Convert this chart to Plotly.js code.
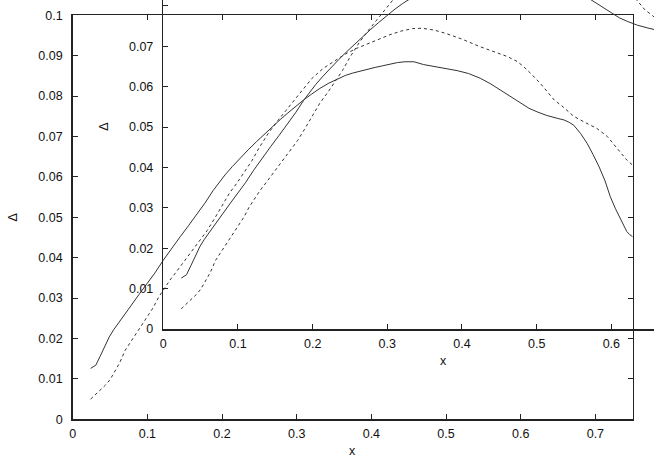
<!DOCTYPE html>
<html>
<head>
<meta charset="utf-8">
<script src="https://cdn.plot.ly/plotly-3.0.1.min.js"></script>
<style>
html,body{margin:0;padding:0;background:#fff;}
#chart{width:654px;height:458px;}
</style>
</head>
<body>
<div id="chart"></div>
<script>
// Series: solid curve
const solidX = [0.024,0.031,0.037,0.043,0.049,0.055,0.062,0.068,0.079,0.090,0.100,0.110,0.121,0.132,0.144,0.155,0.166,0.177,0.188,0.196,0.204,0.214,0.224,0.235,0.246,0.256,0.267,0.278,0.288,0.299,0.309,0.320,0.331,0.343,0.354,0.365,0.375,0.385,0.395,0.405,0.415,0.425,0.435,0.445,0.457,0.470,0.485,0.500,0.515,0.530,0.546,0.560,0.573,0.586,0.600,0.611,0.622,0.635,0.649,0.658,0.665,0.671,0.680,0.689,0.697,0.705,0.713,0.720,0.727,0.734,0.742,0.746,0.750];
const solidY = [0.0126,0.0134,0.0157,0.0182,0.0204,0.0222,0.0240,0.0258,0.0285,0.0312,0.0337,0.0362,0.0393,0.0422,0.0452,0.0479,0.0506,0.0535,0.0566,0.0586,0.0605,0.0626,0.0646,0.0667,0.0687,0.0705,0.0724,0.0742,0.0758,0.0775,0.0790,0.0805,0.0819,0.0832,0.0842,0.0851,0.0857,0.0862,0.0867,0.0871,0.0875,0.0879,0.0883,0.0885,0.0885,0.0878,0.0873,0.0868,0.0863,0.0856,0.0844,0.0830,0.0815,0.0798,0.0782,0.0770,0.0761,0.0752,0.0745,0.0741,0.0735,0.0728,0.0708,0.0683,0.0655,0.0625,0.0590,0.0551,0.0521,0.0493,0.0465,0.0457,0.0452];
// Series: dashed curve
const dashedX = [0.024,0.031,0.037,0.044,0.050,0.056,0.063,0.070,0.077,0.085,0.093,0.100,0.108,0.115,0.122,0.130,0.140,0.150,0.160,0.170,0.180,0.190,0.200,0.210,0.220,0.230,0.240,0.250,0.262,0.275,0.290,0.305,0.320,0.335,0.350,0.365,0.380,0.395,0.410,0.425,0.440,0.455,0.468,0.485,0.500,0.520,0.546,0.565,0.582,0.595,0.604,0.615,0.626,0.636,0.645,0.655,0.671,0.686,0.702,0.716,0.725,0.734,0.742,0.750];
const dashedY = [0.0050,0.0062,0.0072,0.0085,0.0098,0.0116,0.0140,0.0170,0.0190,0.0213,0.0236,0.0254,0.0277,0.0302,0.0323,0.0344,0.0368,0.0392,0.0418,0.0442,0.0467,0.0497,0.0530,0.0560,0.0585,0.0612,0.0640,0.0673,0.0708,0.0740,0.0774,0.0810,0.0843,0.0868,0.0887,0.0904,0.0918,0.0930,0.0940,0.0952,0.0961,0.0967,0.0968,0.0963,0.0955,0.0942,0.0922,0.0910,0.0898,0.0886,0.0873,0.0853,0.0832,0.0810,0.0790,0.0776,0.0750,0.0735,0.0720,0.0700,0.0680,0.0658,0.0642,0.0629];
// Tick labels
const mainXTicks = [0,0.1,0.2,0.3,0.4,0.5,0.6,0.7];
const mainXLabels = ['0','0.1','0.2','0.3','0.4','0.5','0.6','0.7'];
const mainYTicks = [0,0.01,0.02,0.03,0.04,0.05,0.06,0.07,0.08,0.09,0.1];
const mainYLabels = ['0','0.01','0.02','0.03','0.04','0.05','0.06','0.07','0.08','0.09','0.1'];
const insetXTicks = [0,0.1,0.2,0.3,0.4,0.5,0.6];
const insetXLabels = ['0','0.1','0.2','0.3','0.4','0.5','0.6'];
const insetYTicks = [0,0.01,0.02,0.03,0.04,0.05,0.06,0.07,0.08];
const insetYLabels = ['0','0.01','0.02','0.03','0.04','0.05','0.06','0.07','0.08'];
const xTitle = 'x';
const yTitle = 'Δ';

const W = 654, H = 458;
const FONT = {family: 'Liberation Sans, Arial, Helvetica, sans-serif', size: 12.5, color: '#111'};
const LINE = '#333';

const traces = [
  {x: solidX, y: solidY, xaxis: 'x', yaxis: 'y', mode: 'lines', line: {color: LINE, width: 1}},
  {x: dashedX, y: dashedY, xaxis: 'x', yaxis: 'y', mode: 'lines', line: {color: LINE, width: 1, dash: '3px,3px'}},
  {x: solidX, y: solidY, xaxis: 'x2', yaxis: 'y2', mode: 'lines', line: {color: LINE, width: 1}},
  {x: dashedX, y: dashedY, xaxis: 'x2', yaxis: 'y2', mode: 'lines', line: {color: LINE, width: 1, dash: '3px,3px'}}
];

function px2fx(p){ return p / W; }
function py2fy(p){ return 1 - p / H; }

const axBase = {
  showgrid: false, zeroline: false, showline: true, linecolor: '#222', linewidth: 1.5,
  ticks: 'inside', ticklen: 5, tickwidth: 1, tickcolor: '#222',
  tickfont: FONT, tickmode: 'array', fixedrange: true
};

const layout = {
  width: W, height: H,
  margin: {l: 0, r: 0, t: 0, b: 0, pad: 0},
  paper_bgcolor: '#fff', plot_bgcolor: 'rgba(0,0,0,0)',
  showlegend: false,
  xaxis: Object.assign({}, axBase, {
    domain: [px2fx(72.7), px2fx(632.7)], range: [0, 0.75], anchor: 'y',
    tickvals: mainXTicks, ticktext: mainXLabels, mirror: 'ticks', ticklabelstandoff: 2
  }),
  yaxis: Object.assign({}, axBase, {
    domain: [py2fy(419.3), py2fy(15.3)], range: [0, 0.1], anchor: 'x',
    tickvals: mainYTicks, ticktext: mainYLabels, mirror: 'ticks', ticklabelstandoff: 6
  }),
  xaxis2: Object.assign({}, axBase, {
    domain: [px2fx(163.3), 1], range: [0, (W - 163.3) / 746.7], anchor: 'y2',
    tickvals: insetXTicks, ticktext: insetXLabels, mirror: false, ticklabelstandoff: 2
  }),
  yaxis2: Object.assign({}, axBase, {
    domain: [py2fy(329), 1], range: [0, 329 / 4040], anchor: 'x2',
    tickvals: insetYTicks, ticktext: insetYLabels, mirror: false, ticklabelstandoff: 6
  }),
  annotations: [
    {text: xTitle, xref: 'paper', yref: 'paper', x: px2fx(352.7), y: py2fy(450.5), showarrow: false, font: FONT, xanchor: 'center', yanchor: 'middle'},
    {text: yTitle, xref: 'paper', yref: 'paper', x: px2fx(13.3), y: py2fy(217.3), showarrow: false, font: FONT, textangle: -90, xanchor: 'center', yanchor: 'middle'},
    {text: xTitle, xref: 'paper', yref: 'paper', x: px2fx(443.5), y: py2fy(360.5), showarrow: false, font: FONT, xanchor: 'center', yanchor: 'middle'},
    {text: yTitle, xref: 'paper', yref: 'paper', x: px2fx(103.3), y: py2fy(126.5), showarrow: false, font: FONT, textangle: -90, xanchor: 'center', yanchor: 'middle'}
  ]
};

Plotly.newPlot('chart', traces, layout, {staticPlot: true, displayModeBar: false});
</script>
</body>
</html>
